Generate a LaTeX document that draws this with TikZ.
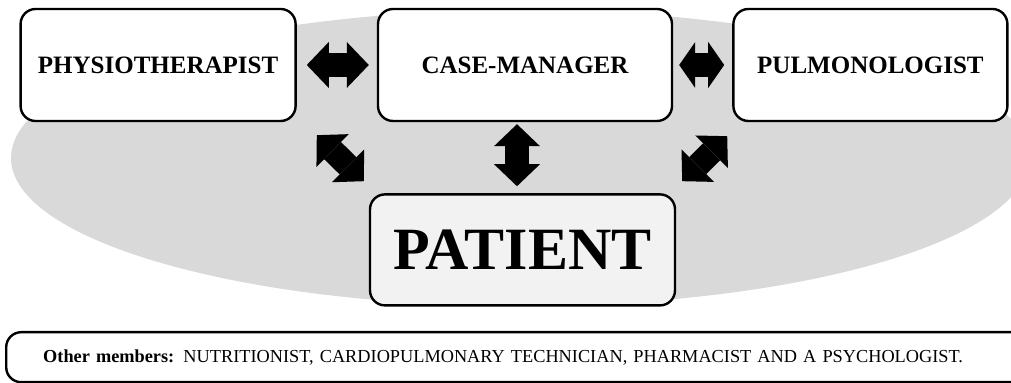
\documentclass[tikz,border=0pt]{standalone}
\usepackage{fontspec}
\setmainfont{Liberation Serif}
\usepackage{tikz}
\usetikzlibrary{arrows.meta, positioning}

\definecolor{halo}{HTML}{D9D9D9}
\definecolor{patfill}{HTML}{F2F2F2}

\begin{document}
\begin{tikzpicture}[
  x=0.5pt, y=-0.5pt,
  node distance=40pt,
  box/.style={draw, line width=1.2pt, rounded corners=7.5pt, fill=white,
    minimum height=56pt, font=\bfseries\fontsize{12.5}{15}\selectfont},
  fat/.style={line width=12pt,
    {Triangle[length=11pt, width=23pt, line width=0pt]}-{Triangle[length=11pt, width=23pt, line width=0pt]}},
  stubby/.style={line width=12pt,
    {Triangle[length=8pt, width=23pt, line width=0pt]}-{Triangle[length=8pt, width=23pt, line width=0pt]}},
]
  \useasboundingbox (0,0) rectangle (1011,383);
  \clip (0,0) rectangle (1011,383);
  \fill[halo] (520,158) ellipse [x radius=254.5pt, y radius=74pt];

  \node[box, minimum width=147pt] (case) at (525,65) {CASE-MANAGER};
  \node[box, minimum width=137.5pt, left=of case] (phys) {PHYSIOTHERAPIST};
  \node[box, minimum width=137pt, right=29.5pt of case] (pulm) {PULMONOLOGIST};
  \node[box, fill=patfill, minimum width=152.5pt, minimum height=55.5pt,
    font=\bfseries\fontsize{30}{36}\selectfont,
    below=35.5pt of case, xshift=-1.25pt] (pat) {PATIENT};

  % other members strip at the bottom
  \node[draw, line width=1.2pt, rounded corners=7.5pt, fill=white, anchor=north west,
    minimum width=515pt, minimum height=25pt, text width=478pt, inner xsep=18.5pt,
    align=left, font=\fontsize{9.15}{11}\selectfont] (others) at (5,331)
    {\textbf{Other members:} NUTRITIONIST, CARDIOPULMONARY TECHNICIAN, PHARMACIST AND A PSYCHOLOGIST.};

  \draw[fat, shorten <=5pt, shorten >=4pt] (phys.east) -- (case.west);
  \draw[stubby, shorten <=3pt, shorten >=4pt] (case.east) -- (pulm.west);
  \draw[fat, shorten <=1pt, shorten >=3.5pt] ([xshift=-4pt]case.south) -- ([xshift=-4pt]case.south |- pat.north);
  \draw[fat] ([xshift=10pt, yshift=-6.5pt]phys.south east) -- ([xshift=-2.5pt, yshift=6pt]pat.north west);
  \draw[fat] ([xshift=-2.5pt, yshift=-7pt]pulm.south west) -- ([xshift=3pt, yshift=6pt]pat.north east);
\end{tikzpicture}
\end{document}
